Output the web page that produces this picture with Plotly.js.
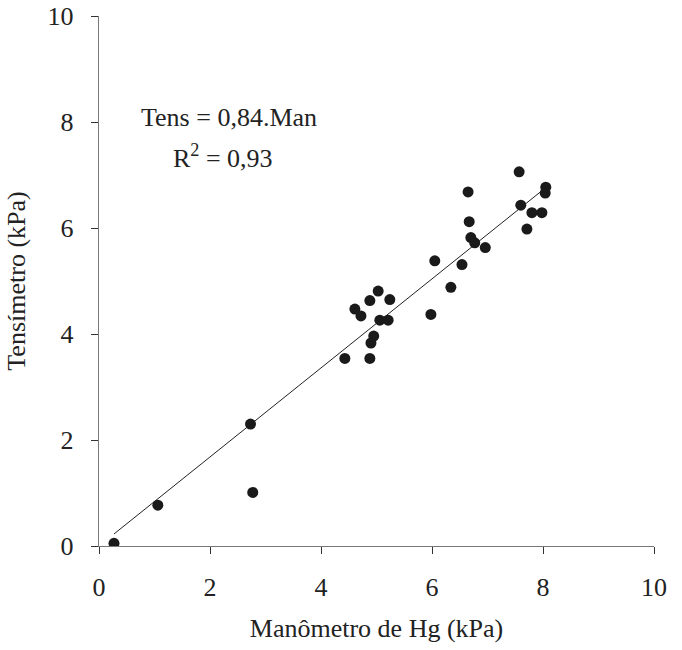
<!DOCTYPE html>
<html>
<head>
<meta charset="utf-8">
<script src="https://cdn.plot.ly/plotly-3.0.1.min.js"></script>
<style>html,body{margin:0;padding:0;background:#fff;}#chart{width:682px;height:650px;}</style>
</head>
<body>
<div id="chart"></div>
<script>
// Data
const manometro = [0.27, 1.06, 2.73, 2.77, 4.43, 4.88, 4.90, 4.95, 4.61, 4.72, 4.88, 5.03, 5.06, 5.21, 5.24, 5.98, 6.34, 6.05, 6.54, 6.65, 6.67, 6.70, 6.77, 6.96, 7.57, 7.60, 7.71, 7.80, 7.98, 8.04, 8.05];
const tensimetro = [0.05, 0.77, 2.30, 1.01, 3.54, 3.54, 3.83, 3.96, 4.47, 4.34, 4.63, 4.81, 4.26, 4.26, 4.65, 4.37, 4.88, 5.38, 5.31, 6.68, 6.12, 5.82, 5.72, 5.63, 7.06, 6.43, 5.98, 6.29, 6.29, 6.66, 6.77];
const slope = 0.84;
const fitX = [Math.min(...manometro), Math.max(...manometro)];
const fitY = fitX.map(v => slope * v);
const tickVals = [0, 2, 4, 6, 8, 10];
const eqText = "Tens = 0,84.Man";
const r2Text = "R<sup>2</sup> = 0,93";

const font = {family: "Times New Roman", size: 26, color: "#222"};

const traces = [
  {x: fitX, y: fitY, mode: "lines", line: {color: "#222", width: 1}, hoverinfo: "skip", showlegend: false},
  {x: manometro, y: tensimetro, mode: "markers", marker: {color: "#1a1a1a", size: 11}, showlegend: false}
];

const layout = {
  width: 682, height: 650,
  margin: {l: 99, r: 28, t: 16, b: 104},
  paper_bgcolor: "#fff", plot_bgcolor: "#fff",
  font: font,
  showlegend: false,
  xaxis: {
    range: [0, 10], tickvals: tickVals, ticks: "outside", ticklen: 7, tickcolor: "#333",
    showline: true, linecolor: "#777", linewidth: 1.3, showgrid: false, zeroline: false,
    tickfont: font, ticklabelstandoff: 10,
    title: {text: "Manômetro de Hg (kPa)", font: font, standoff: 18}
  },
  yaxis: {
    range: [0, 10], tickvals: tickVals, ticks: "outside", ticklen: 7, tickcolor: "#333",
    showline: true, linecolor: "#777", linewidth: 1.3, showgrid: false, zeroline: false,
    tickfont: font, ticklabelstandoff: 12,
    title: {text: "Tensímetro (kPa)", font: font, standoff: 14}
  },
  annotations: [
    {x: 2.35, y: 8.08, xref: "x", yref: "y", text: eqText, showarrow: false, font: font},
    {x: 2.24, y: 7.34, xref: "x", yref: "y", text: r2Text, showarrow: false, font: font}
  ]
};

Plotly.newPlot("chart", traces, layout, {displayModeBar: false, staticPlot: true});
</script>
</body>
</html>
